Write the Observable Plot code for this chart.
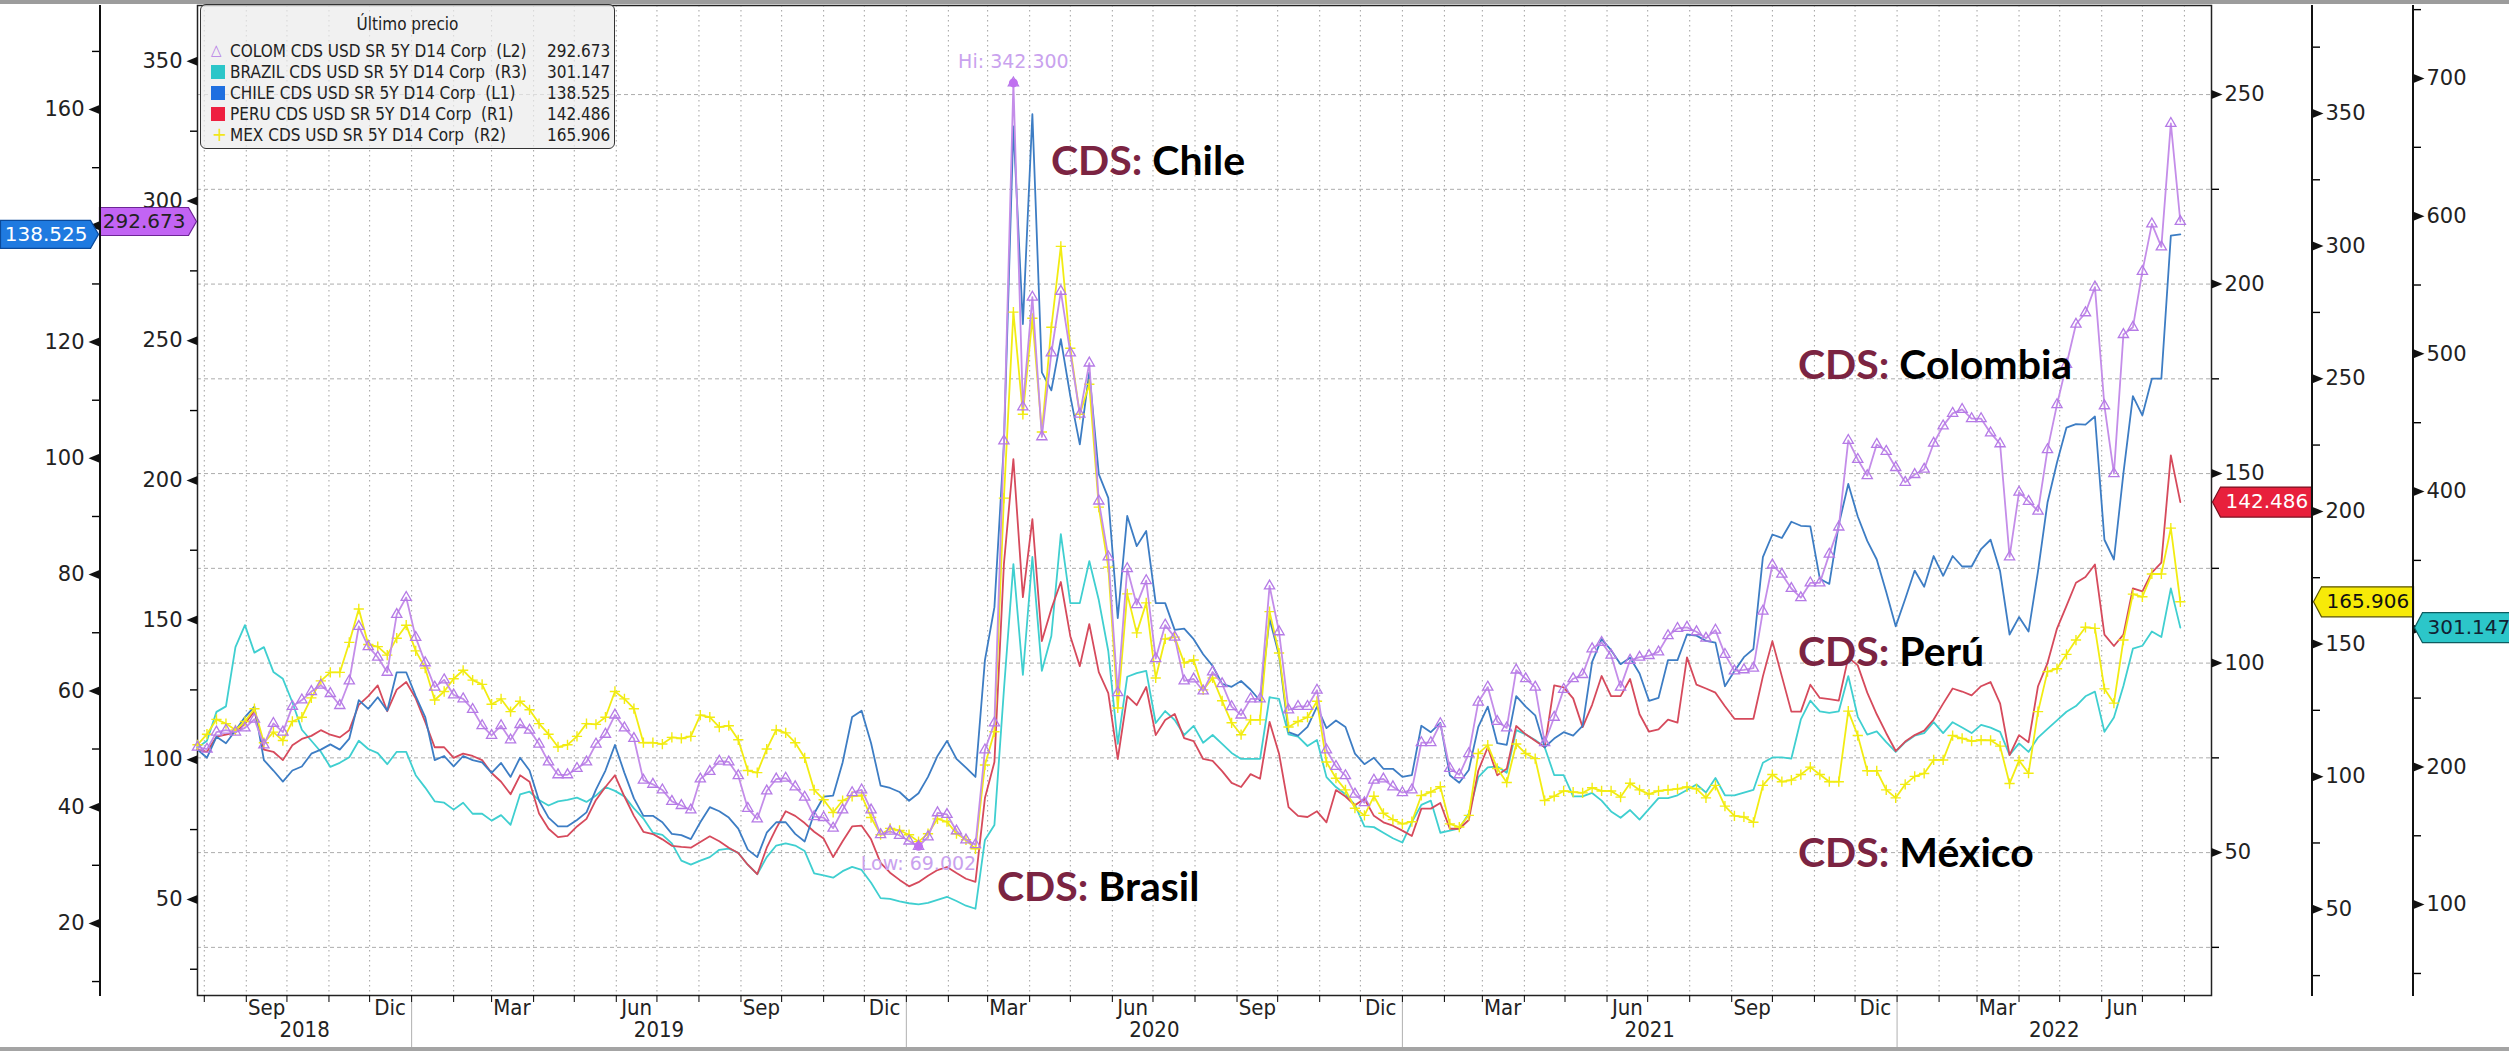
<!DOCTYPE html>
<html><head><meta charset="utf-8">
<script src="https://cdn.jsdelivr.net/npm/d3@7"></script>
<script src="https://cdn.jsdelivr.net/npm/@observablehq/plot@0.6"></script>
<style>
html,body{margin:0;padding:0;background:#fff;}
#chart{position:relative;width:2509px;height:1053px;overflow:hidden;background:#fff;}
#chart svg{position:absolute;left:0;top:0;pointer-events:none;}
.narrow{font-family:"Liberation Sans Narrow","DejaVu Sans Condensed","Arial Narrow",sans-serif;}
#legend{position:absolute;left:200px;top:4px;width:413px;height:143px;background:rgba(236,236,236,0.72);border:1.5px solid #333;border-radius:6px;font-size:17px;color:#222;}
#legend .t{position:absolute;top:9px;left:0;width:100%;text-align:center;}
#legend .r{position:absolute;left:0;width:100%;height:20px;line-height:20px;white-space:pre;}
#legend .s{position:absolute;left:10px;top:3px;width:14px;height:14px;}
#legend .n{position:absolute;left:29px;}
#legend .v{position:absolute;left:346px;}
.cds{position:absolute;font-family:Lato,"Open Sans",sans-serif;font-weight:700;font-size:41px;line-height:40px;color:#000;white-space:nowrap;}
.cds b{color:#7b2442;font-weight:700;}
.bar{position:absolute;left:0;width:2509px;}
</style></head><body><div id="chart"></div>
<script>
// ---------- data (weekly closes, from 2018-07-27) ----------
const firstDate = "2018-07-27";
const chile = [49.9,48.5,52.1,51.0,53.2,55.5,57.3,48.1,46.3,44.4,46.3,47.0,49.2,49.9,50.8,49.9,51.8,58.4,56.9,58.9,56.6,63.2,63.2,59.1,55.5,48.1,48.8,47.0,48.8,48.1,47.7,45.9,47.6,45.2,48.5,46.3,41.1,38.2,36.7,
36.7,37.8,39.1,43.0,46.3,50.7,45.9,41.5,38.5,38.5,37.4,35.4,35.2,34.5,37.4,40.0,39.3,38.2,36.3,32.7,31.4,35.6,37.4,37.4,35.4,34.1,38.9,41.8,42.0,47.7,55.5,56.6,51.0,43.7,43.3,42.6,41.1,42.4,
45.2,48.8,51.4,48.3,46.8,45.2,65.3,74.4,102.4,157.1,123.1,159.2,114.8,111.7,120.5,110.7,102.4,114.8,97.3,93.2,72.5,90.1,84.9,87.5,75.1,75.1,70.5,70.7,68.9,66.3,64.3,61.2,60.7,61.7,60.2,58.3,
72.4,66.1,52.9,52.3,53.8,57.3,53.6,54.9,53.8,49.2,47.4,48.5,46.6,46.6,45.2,45.5,54.0,52.9,54.5,45.5,44.2,46.4,53.8,57.3,51.0,50.7,59.1,57.3,55.8,50.3,51.8,52.9,52.3,54.0,65.0,68.9,67.0,64.6,65.7,
63.0,58.3,58.8,65.3,65.3,69.7,69.5,68.6,68.3,60.8,63.4,65.8,67.2,83.0,86.9,86.3,89.1,88.4,88.3,79.3,78.4,88.6,95.6,90.0,85.8,82.6,77.0,71.1,75.8,80.7,77.9,83.2,79.8,83.2,81.4,81.4,84.4,
86.0,80.6,69.7,72.7,70.2,80.6,92.4,99.3,105.3,105.9,105.8,107.2,86.0,82.6,97.4,110.7,107.4,113.7,113.7,138.3,138.525];
const colombia = [104.5,103.8,109.9,110.6,109.9,111.4,114.5,105.3,113.0,109.9,119.1,121.4,124.4,126.7,123.7,119.4,128.2,147.7,140.5,136.7,131.3,152.0,158.1,143.8,134.7,126.0,128.6,123.2,121.8,118.0,112.2,108.7,112.2,107.1,112.6,110.6,105.6,99.2,94.6,
94.6,96.9,99.2,105.6,109.1,116.0,111.4,107.6,92.7,91.2,89.2,85.1,83.6,82.0,93.1,95.8,99.5,99.2,94.3,82.6,78.8,88.8,93.1,93.4,90.3,86.6,79.6,79.3,75.5,82.0,88.2,89.2,82.0,73.2,74.4,72.9,70.9,69.002,
72.4,81.0,80.4,74.5,71.3,69.6,103.5,113.2,214.1,342.3,226.3,265.6,215.6,245.6,267.7,245.6,223.7,242.0,192.6,172.6,124.0,168.4,155.5,164.1,136.2,148.2,143.9,128.2,128.9,124.6,131.4,127.2,119.0,116.0,121.8,121.8,
162.2,145.8,117.8,119.1,119.1,124.9,103.5,97.6,94.3,87.7,84.6,92.7,93.1,90.3,88.2,89.2,106.1,106.1,112.9,96.9,94.6,102.2,120.6,126.0,113.7,111.4,132.1,129.0,126.0,106.1,115.2,125.2,129.0,130.5,139.7,142.0,137.4,126.0,135.6,
136.7,137.3,138.6,144.4,147.0,147.4,145.8,143.5,146.4,137.7,131.8,132.2,132.8,153.2,169.7,166.4,161.3,158.0,163.3,163.3,173.6,183.3,214.3,207.5,201.7,212.9,210.4,204.6,199.3,202.1,204.0,213.3,219.5,224.0,225.4,222.1,222.1,
217.0,213.1,172.6,195.8,192.5,189.0,211.0,227.1,241.5,255.9,260.0,269.2,226.7,202.4,252.2,254.8,274.8,291.8,283.6,327.8,292.673];
const peru = [77.2,76.6,80.6,81.1,81.7,84.0,87.3,77.2,76.6,74.4,78.3,80.0,80.8,82.3,81.1,80.4,82.3,89.0,91.3,94.1,87.3,93.0,95.0,90.7,84.5,77.8,77.8,75.0,76.1,75.5,74.4,71.0,68.7,65.4,70.4,68.7,60.3,56.3,54.1,
54.4,56.9,58.9,63.9,67.3,70.4,64.8,59.7,55.5,54.9,53.5,51.8,51.5,51.3,52.8,54.3,53.0,51.3,49.9,46.8,44.3,51.3,56.4,60.9,59.7,57.8,55.5,53.7,48.8,53.0,56.9,57.1,53.5,47.3,44.7,42.8,41.1,42.2,
43.9,45.4,46.2,44.6,43.1,42.3,64.4,73.9,126.1,153.8,117.4,138.0,105.8,114.3,121.4,107.1,99.2,110.3,97.6,92.1,74.7,91.3,88.9,93.7,81.0,85.0,86.6,80.2,79.4,74.7,74.2,71.5,68.4,67.3,70.7,69.5,
84.5,76.1,62.0,59.7,59.4,60.9,58.0,66.5,64.8,62.5,64.2,59.7,58.0,57.1,55.8,54.4,61.6,61.6,63.1,56.3,56.3,58.6,71.6,77.8,70.4,72.1,83.4,81.2,79.5,77.8,94.1,93.6,90.7,83.1,89.0,96.6,91.3,91.3,95.8,
86.5,81.9,82.5,85.1,84.3,101.5,94.3,93.3,92.2,88.6,85.3,85.3,85.3,96.5,105.8,96.5,87.2,87.2,94.3,90.8,90.5,90.1,101.5,99.4,92.2,86.5,81.5,76.8,79.3,81.0,82.2,85.1,89.3,93.3,92.5,91.5,93.9,
95.0,89.4,75.7,81.0,79.1,93.9,100.0,109.1,115.1,121.2,122.7,126.0,107.5,104.5,107.5,119.7,118.9,123.9,126.5,154.8,142.486];
const mexico = [112.0,116.0,121.6,120.0,117.6,120.8,125.6,112.8,116.8,113.6,120.8,122.4,129.7,136.1,139.3,139.3,150.6,163.2,149.8,149.0,145.8,152.2,157.1,147.4,140.9,128.9,132.1,136.9,140.1,136.4,134.8,127.3,129.3,124.5,128.4,125.2,120.0,116.0,111.2,
112.0,115.2,120.0,119.7,122.4,132.1,129.3,125.6,112.8,112.8,112.3,114.8,114.4,115.2,123.2,122.4,118.7,119.2,113.9,102.3,101.5,110.4,117.6,116.5,112.8,107.1,95.0,91.3,86.5,91.0,92.6,92.9,84.6,78.1,80.5,79.7,78.1,75.5,
78.5,84.1,83.0,78.5,76.2,72.8,104.4,116.9,205.0,275.1,236.6,272.8,229.9,269.4,299.9,261.5,236.6,247.9,201.6,179.0,125.9,168.9,154.2,165.5,137.2,151.9,152.6,142.9,144.0,132.7,137.2,128.6,120.3,115.8,121.4,121.4,
162.2,146.6,118.7,120.8,122.4,128.4,105.5,99.4,95.0,88.1,85.4,92.6,86.2,83.8,82.2,83.0,92.9,94.2,96.2,82.2,81.0,85.4,108.7,111.9,103.1,97.8,112.3,108.7,106.8,91.0,92.6,94.6,94.2,93.9,95.8,94.6,94.6,92.3,97.5,
95.0,93.4,94.6,95.0,95.4,96.1,95.4,92.0,96.7,88.9,85.2,84.8,82.8,96.7,100.8,98.1,98.7,100.8,103.6,100.8,98.1,98.1,124.7,115.5,102.2,102.2,95.0,92.0,97.1,100.1,101.2,106.3,106.3,115.5,114.4,113.4,113.8,
113.7,111.5,97.4,106.1,101.3,124.5,139.6,140.7,146.1,151.5,156.3,155.9,133.1,127.7,151.5,168.8,167.8,176.4,176.4,193.7,165.906];
const brazil = [214,219,240,244,287,303,283,287,269,264,247,227,219,211,200,203,207,219,213,210,202,211,211,194,185,175,174,169,174,166,166,161,165,158,180,182,176,172,175,
176.1,177.7,174.6,179.2,185.4,182.6,178.6,169.9,162.5,152.2,150.7,144.5,132.0,129.0,132.0,134.5,139.8,140.7,137.6,129.0,122.1,134.5,142.9,144.5,142.9,138.9,122.7,121.2,119.6,124.3,127.4,125.2,115.9,104.7,104.1,102.3,101.0,100.2,
101.3,103.5,105.7,102.6,99.2,97.0,147.0,157.9,255.9,347.3,266.8,352.5,269.8,295.1,369.1,319.0,319.0,349.5,321.2,284.2,216.7,265.5,268.1,269.8,231.9,240.6,234.1,223.2,229.8,217.6,223.2,216.7,210.2,205.8,205.8,205.8,
250.6,249.4,223.6,222.0,215.2,219.6,192.6,185.4,180.2,172.4,156.9,156.3,152.2,148.2,145.1,160.0,172.4,175.5,152.2,153.8,155.3,166.2,192.6,199.7,200.3,195.7,226.7,223.6,219.6,214.3,194.1,194.1,178.6,178.6,181.1,175.5,167.7,163.1,168.7,
161.7,169.5,177.4,177.4,179.4,183.3,187.2,181.4,192.0,179.4,179.4,181.4,183.3,203.0,206.9,206.9,206.1,234.5,248.2,240.4,239.2,240.4,266.0,236.4,223.5,225.8,218.0,210.9,218.0,222.7,224.6,232.5,224.6,232.5,228.6,224.6,230.5,
228.5,225.5,208.8,217.1,210.9,221.3,227.6,233.8,240.1,244.2,251.3,254.7,225.5,235.9,258.8,285.9,288.0,298.4,294.3,329.7,301.147];

// axis ticks per scale (labels hidden under a price tag in the picture are left out of the label lists)
const ticksL1 = [20,40,60,80,100,120,140,160], labelsL1 = [20,40,60,80,100,120,160], minorL1 = [10,30,50,70,90,110,130,150,170];
const ticksL2 = [50,100,150,200,250,300,350], labelsL2 = ticksL2, minorL2 = [25,75,125,175,225,275,325];
const ticksR1 = [50,100,150,200,250], labelsR1 = ticksR1, minorR1 = [25,75,125,175,225];
const ticksR2 = [50,100,150,200,250,300,350], labelsR2 = ticksR2, minorR2 = [25,75,125,175,225,275,325,375];
const ticksR3 = [100,200,300,400,500,600,700], labelsR3 = [100,200,400,500,600,700], minorR3 = [50,150,250,350,450,550,650,750];
const gridR1 = [25,50,75,100,125,150,175,200,225,250];
const monthNames = ["Ene","Feb","Mar","Abr","May","Jun","Jul","Ago","Sep","Oct","Nov","Dic"];
const labelMonths = [2,5,8,11];

// axis ranges
const domL1 = [7.6, 177.9], domL2 = [15.6, 370], domR1 = [12.3, 273.5], domR2 = [17.5, 390.7], domR3 = [34, 753];
const xDomain = [new Date("2018-07-27"), new Date("2022-08-21")];

const colors = {col:"#c48de9", colMark:"#b57ae6", bra:"#3fcfd0", chi:"#3d7dc4", per:"#d64a5c", mex:"#f2ec12"};
const NARROW = "Liberation Sans Narrow, DejaVu Sans Condensed, Arial Narrow, sans-serif";
const AXF = "DejaVu Sans, Verdana, sans-serif";

(function draw() {
const start = new Date(firstDate);
const dates = d3.range(chile.length).map(i => d3.utcDay.offset(start, 7 * i));
const rows = arr => arr.map((v, i) => ({date: dates[i], value: v}));
const W = 2509, H = 1053;
const M = {marginLeft: 197, marginRight: 298, marginTop: 5, marginBottom: 58};
const style = {background: "transparent", overflow: "visible"};

const arrowLeft = {draw(c){c.moveTo(0,-4.5);c.lineTo(-11,0);c.lineTo(0,4.5);c.closePath();}};
const arrowRight = {draw(c){c.moveTo(0,-4.5);c.lineTo(11,0);c.lineTo(0,4.5);c.closePath();}};
const tagLeft = w => ({draw(c){c.moveTo(-1,0);c.lineTo(-9,-14);c.lineTo(-w,-14);c.lineTo(-w,14);c.lineTo(-9,14);c.closePath();}});
const tagRight = w => ({draw(c){c.moveTo(1,0);c.lineTo(9,-15);c.lineTo(w,-15);c.lineTo(w,15);c.lineTo(9,15);c.closePath();}});

function yAxis(ticks, labels, minor, side) {
  const left = side === "left";
  return [
    Plot.axisY(minor, {anchor: side, label: null, tickSize: 7, strokeWidth: 1.4, tickFormat: () => "", fontSize: 1}),
    Plot.axisY(labels, {anchor: side, label: null, tickSize: 0, tickPadding: left ? 15 : 13, fontSize: 21, fontFamily: AXF, fill: "#222", tickFormat: d => String(d)}),
    Plot.dot(ticks, {y: d => d, frameAnchor: side, symbol: left ? arrowLeft : arrowRight, fill: "#111", stroke: "none"})
  ];
}
function tag(value, side, width, fill, stroke, textFill) {
  const left = side === "left";
  return [
    Plot.dot([value], {y: d => d, frameAnchor: side, symbol: left ? tagLeft(width) : tagRight(width), fill, stroke, strokeWidth: 1.2}),
    Plot.text([value], {y: d => d, frameAnchor: side, text: d => d3.format(".3f")(d), textAnchor: left ? "end" : "start", dx: left ? -12 : 14, fontSize: 20, fontFamily: AXF, fill: textFill})
  ];
}
function layer(yDomain, marks, hasYAxis = false) {
  return Plot.plot({width: W, height: H, ...M, style,
    x: {type: "utc", domain: xDomain, axis: null, label: null},
    y: hasYAxis ? {domain: yDomain, label: null} : {domain: yDomain, axis: null, label: null},
    marks});
}
function axisLayer(yDomain, pos, marks) {
  return Plot.plot({width: W, height: H, marginTop: M.marginTop, marginBottom: M.marginBottom,
    marginLeft: pos, marginRight: W - pos - 1, style, y: {domain: yDomain, label: null}, marks});
}

const chart = document.getElementById("chart");
const monthStarts = d3.utcMonth.range(d3.utcMonth.ceil(xDomain[0]), xDomain[1]);
const monthLabels = monthStarts.filter(d => labelMonths.includes(d.getUTCMonth()))
  .map(d => ({date: d3.utcDay.offset(d, 15), label: monthNames[d.getUTCMonth()]}));
const yearStarts = d3.utcYear.range(d3.utcYear.ceil(xDomain[0]), xDomain[1]);
const yearLabels = d3.range(2018, 2023).map(y => {
  const a = d3.max([new Date(Date.UTC(y,0,1)), xDomain[0]]);
  const b = d3.min([new Date(Date.UTC(y+1,0,1)), xDomain[1]]);
  return {date: new Date((+a + +b) / 2), label: String(y)};
});

// base: grid, x axis, R1 axis, frame
chart.append(layer(domR1, [
  Plot.ruleX(monthStarts, {x: d => d, stroke: "#a0a0a0", strokeDasharray: "1.5,3.5", strokeWidth: 1}),
  Plot.ruleY(gridR1, {y: d => d, stroke: "#acacac", strokeDasharray: "4,3", strokeWidth: 1}),
  Plot.frame({stroke: "#222", strokeWidth: 1.5}),
  Plot.axisX(monthStarts, {anchor: "bottom", label: null, tickSize: 7, tickFormat: () => "", fontSize: 1}),
  Plot.text(monthLabels, {x: "date", text: "label", frameAnchor: "bottom", dy: 19, fontSize: 22, fontFamily: NARROW, fill: "#222"}),
  Plot.text(yearLabels, {x: "date", text: "label", frameAnchor: "bottom", dy: 41, fontSize: 22, fontFamily: NARROW, fill: "#222"}),
  Plot.ruleX(yearStarts, {x: d => d, insetTop: 945, dy: 52, stroke: "#b0b0b0"}),
  ...yAxis(ticksR1, labelsR1, minorR1, "right")
], true));
// Brazil (R3)
chart.append(layer(domR3, [Plot.line(rows(brazil), {x: "date", y: "value", stroke: colors.bra, strokeWidth: 1.8})]));
// Peru (R1)
chart.append(layer(domR1, [
  Plot.line(rows(peru), {x: "date", y: "value", stroke: colors.per, strokeWidth: 1.8}),
  ...tag(peru[peru.length - 1], "right", 100, "#e8203c", "#7a1020", "#fff")
]));
// Chile (L1)
chart.append(layer(domL1, [Plot.line(rows(chile), {x: "date", y: "value", stroke: colors.chi, strokeWidth: 1.8})]));
// Mexico (R2)
chart.append(layer(domR2, [
  Plot.line(rows(mexico), {x: "date", y: "value", stroke: colors.mex, strokeWidth: 1.8}),
  Plot.dot(rows(mexico), {x: "date", y: "value", symbol: "plus", stroke: colors.mex, r: 3.4, strokeWidth: 1.4})
]));
// Colombia (L2) with L2 axis
const lowIdx = colombia.indexOf(d3.min(colombia)), hiIdx = colombia.indexOf(d3.max(colombia));
const colRows = rows(colombia);
chart.append(layer(domL2, [
  Plot.line(colRows, {x: "date", y: "value", stroke: colors.col, strokeWidth: 1.8}),
  Plot.dot(colRows, {x: "date", y: "value", symbol: "triangle", stroke: colors.colMark, fill: "none", r: 3.8, strokeWidth: 1.3}),
  Plot.dot([colRows[hiIdx], colRows[lowIdx]], {x: "date", y: "value", fill: "#c070f0", r: 4.5}),
  Plot.text([colRows[hiIdx]], {x: "date", y: "value", text: d => "Hi: " + d3.format(".3f")(d.value), dy: -21, fontSize: 19, fontFamily: AXF, fill: "#c9a2ee"}),
  Plot.text([colRows[lowIdx]], {x: "date", y: "value", text: d => "Low: " + d3.format(".3f")(d.value), dy: 18, fontSize: 19, fontFamily: AXF, fill: "#c9a2ee"}),
  ...yAxis(ticksL2, labelsL2, minorL2, "left"),
  ...tag(colombia[colombia.length - 1], "left", 98, "#c264f4", "#6d2596", "#222")
], true));
// outer axes
chart.append(axisLayer(domL1, 99, [Plot.frame({stroke: "#111", strokeWidth: 1}), ...yAxis(ticksL1, labelsL1, minorL1, "left"),
  ...tag(chile[chile.length - 1], "left", 99, "#1f7ae0", "#0b4a9a", "#fff")]));
chart.append(axisLayer(domR2, 2311, [Plot.frame({stroke: "#111", strokeWidth: 1}), ...yAxis(ticksR2, labelsR2, minorR2, "right"),
  ...tag(mexico[mexico.length - 1], "right", 101, "#f7ea08", "#5a5400", "#111")]));
chart.append(axisLayer(domR3, 2412, [Plot.frame({stroke: "#111", strokeWidth: 1}), ...yAxis(ticksR3, labelsR3, minorR3, "right"),
  ...tag(brazil[brazil.length - 1], "right", 110, "#2cc6c9", "#0d5c60", "#123")]));

// legend & annotations
const legendRows = [
  {name: "COLOM CDS USD SR 5Y D14 Corp  (L2)", v: colombia, sym: "tri", c: colors.colMark},
  {name: "BRAZIL CDS USD SR 5Y D14 Corp  (R3)", v: brazil, sym: "sq", c: "#2cc6c9"},
  {name: "CHILE CDS USD SR 5Y D14 Corp  (L1)", v: chile, sym: "sq", c: "#1f6fe0"},
  {name: "PERU CDS USD SR 5Y D14 Corp  (R1)", v: peru, sym: "sq", c: "#ee2040"},
  {name: "MEX CDS USD SR 5Y D14 Corp  (R2)", v: mexico, sym: "plus", c: "#f2e61a"}
];
const lg = document.createElement("div");
lg.id = "legend"; lg.className = "narrow";
lg.innerHTML = `<div class="t">Último precio</div>` + legendRows.map((r, i) => {
  const s = r.sym === "sq" ? `<div class="s" style="background:${r.c}"></div>`
    : r.sym === "tri" ? `<div class="s" style="color:${r.c};font-size:15px;line-height:14px;top:2px">△</div>`
    : `<div class="s" style="color:${r.c};font-size:20px;line-height:14px;top:2px;left:11px">+</div>`;
  return `<div class="r" style="top:${36 + i * 21}px">${s}<span class="n">${r.name}</span><span class="v">${d3.format(".3f")(r.v[r.v.length - 1])}</span></div>`;
}).join("");
chart.append(lg);
const notes = [["Chile", 1051, 140], ["Brasil", 997, 866], ["Colombia", 1798, 344], ["Perú", 1798, 631], ["México", 1798, 832]];
for (const [name, x, y] of notes) {
  const d = document.createElement("div");
  d.className = "cds"; d.style.left = x + "px"; d.style.top = y + "px";
  d.innerHTML = `<b>CDS:</b> ${name}`;
  chart.append(d);
}
const topBar = document.createElement("div"); topBar.className = "bar";
topBar.style.cssText += "top:0;height:4px;background:#9c9c9c;"; chart.append(topBar);
const botBar = document.createElement("div"); botBar.className = "bar";
botBar.style.cssText += "top:1047px;height:4px;background:#a4a4a4;"; chart.append(botBar);
})();
</script></body></html>
